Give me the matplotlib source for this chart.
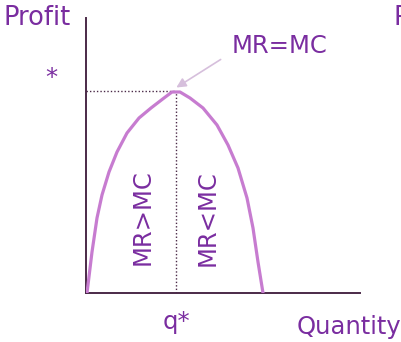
import matplotlib.pyplot as plt

# profit curve (arbitrary units)
quantity = [1, 6, 11, 16, 23, 31, 41, 53, 65, 78, 86, 94, 104, 117, 131, 142, 152, 161, 167, 172, 177]
profit = [0, 41, 75, 98, 121, 141, 160, 175, 185, 195, 201, 201, 195, 185, 168, 148, 125, 95, 65, 31, 0]
q_star = 90
profit_max = 202

purple = '#7a2da0'
curve_col = '#c77cd0'
axis_col = '#4b2a48'

fig = plt.figure(figsize=(4.01, 3.42), dpi=100)
ax = fig.add_axes([86 / 401, 49 / 342, 274 / 401, 275 / 342])
ax.set_xlim(0, 274)
ax.set_ylim(0, 275)

ax.plot(quantity, profit, color=curve_col, lw=2.3, solid_joinstyle='round', zorder=3)
ax.plot([0, q_star], [profit_max, profit_max], color=axis_col, lw=1, ls=(0, (1, 1.5)))
ax.plot([q_star, q_star], [0, profit_max], color=axis_col, lw=1, ls=(0, (1, 1.5)))

ax.annotate('', xy=(88, 204), xytext=(137, 235),
            arrowprops=dict(arrowstyle='-|>', color='#d6bfdc', lw=1.2, mutation_scale=14))

for s in ['top', 'right']:
    ax.spines[s].set_visible(False)
for s in ['left', 'bottom']:
    ax.spines[s].set_color(axis_col)
    ax.spines[s].set_linewidth(1.4)
ax.set_xticks([])
ax.set_yticks([])

fs = 17.5
fig.text(3 / 401, 1 - 18 / 342, 'Profit', color=purple, fontsize=18.5, va='center', ha='left')
fig.text(393 / 401, 1 - 18 / 342, 'P', color=purple, fontsize=18.5, va='center', ha='left')
fig.text(51 / 401, 1 - 78 / 342, '*', color=purple, fontsize=fs, va='center', ha='center')
fig.text(280 / 401, 1 - 46 / 342, 'MR=MC', color=purple, fontsize=fs, va='center', ha='center')
fig.text(176 / 401, 1 - 322 / 342, 'q*', color=purple, fontsize=fs, va='center', ha='center')
fig.text(349 / 401, 1 - 327 / 342, 'Quantity', color=purple, fontsize=fs, va='center', ha='center')
fig.text(143 / 401, 1 - 217 / 342, 'MR>MC', color=purple, fontsize=fs, va='center', ha='center', rotation=90)
fig.text(208 / 401, 1 - 218 / 342, 'MR<MC', color=purple, fontsize=fs, va='center', ha='center', rotation=90)

fig.savefig('out.png', dpi=100)
